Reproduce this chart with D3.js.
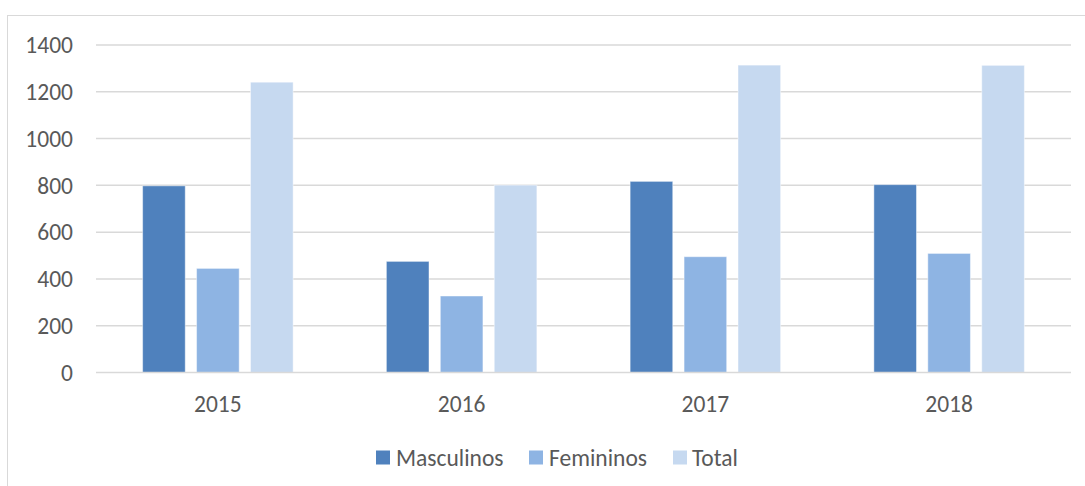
<!DOCTYPE html>
<html>
<head>
<meta charset="utf-8">
<script src="https://cdn.jsdelivr.net/npm/d3@7"></script>
<style>
  html, body { margin: 0; padding: 0; background: #fff; }
  svg { display: block; }
  text { font-family: Carlito, Calibri, Lato, "Open Sans", sans-serif; fill: #595959; }
</style>
</head>
<body>
<svg id="chart" width="1085" height="486"></svg>
<script>
const categories = ["2015", "2016", "2017", "2018"];
const seriesNames = ["Masculinos", "Femininos", "Total"];
const masculinos = [798, 475, 817, 803];
const femininos = [445, 327, 495, 509];
const total = [1241, 801, 1314, 1313];
const yTicks = [0, 200, 400, 600, 800, 1000, 1200, 1400];
const colors = ["#4F81BD", "#8EB4E3", "#C6D9F0"];

const seriesValues = [masculinos, femininos, total];
const data = categories.map((c, i) => ({
  cat: c,
  values: seriesNames.map((s, j) => ({ key: s, value: seriesValues[j][i] }))
}));

const svg = d3.select("#chart");
const FS = "23.5px";

// chart area border
svg.append("rect")
  .attr("x", 7.5).attr("y", 15.5)
  .attr("width", 1090).attr("height", 480)
  .attr("fill", "none").attr("stroke", "#D9D9D9").attr("stroke-width", 1);

const plot = { left: 96, right: 1071, top: 45, bottom: 372.5 };

const x = d3.scaleBand().domain(categories).range([plot.left, plot.right]).paddingInner(0).paddingOuter(0);
const y = d3.scaleLinear().domain([0, 1400]).range([plot.bottom, plot.top]);

// inner band for series
const groupWidth = 150.5;
const xs = d3.scaleBand().domain(seriesNames)
  .range([(x.bandwidth() - groupWidth) / 2, (x.bandwidth() + groupWidth) / 2])
  .paddingInner(0.21).paddingOuter(0);

// gridlines
svg.append("g").selectAll("line").data(yTicks.filter(d => d !== 0)).join("line")
  .attr("x1", plot.left).attr("x2", plot.right)
  .attr("y1", d => y(d)).attr("y2", d => y(d))
  .attr("stroke", "#D9D9D9").attr("stroke-width", 1.5);

// y tick labels
svg.append("g").selectAll("text").data(yTicks).join("text")
  .attr("x", 73).attr("y", d => y(d))
  .attr("dy", "0.35em")
  .attr("text-anchor", "end")
  .style("font-size", FS)
  .text(d => d);

// bars
const groups = svg.append("g").selectAll("g").data(data).join("g")
  .attr("transform", d => `translate(${x(d.cat)},0)`);
groups.selectAll("rect").data(d => d.values).join("rect")
  .attr("x", d => xs(d.key))
  .attr("width", xs.bandwidth())
  .attr("y", d => y(d.value))
  .attr("height", d => y(0) - y(d.value))
  .attr("fill", (d, i) => colors[i])
  .attr("stroke", "rgba(255,255,255,0.45)")
  .attr("stroke-width", 1);

// baseline
svg.append("line")
  .attr("x1", plot.left).attr("x2", plot.right)
  .attr("y1", y(0)).attr("y2", y(0))
  .attr("stroke", "#D9D9D9").attr("stroke-width", 1.5);

// x labels
svg.append("g").selectAll("text").data(categories).join("text")
  .attr("x", d => x(d) + x.bandwidth() / 2)
  .attr("y", 404)
  .attr("dy", "0.35em")
  .attr("text-anchor", "middle")
  .style("font-size", FS)
  .text(d => d);

// legend
const legendItems = [
  { name: seriesNames[0], sx: 376, tx: 396 },
  { name: seriesNames[1], sx: 529, tx: 549 },
  { name: seriesNames[2], sx: 673, tx: 692 }
];
const lg = svg.append("g");
legendItems.forEach((d, i) => {
  lg.append("rect").attr("x", d.sx).attr("y", 450.5).attr("width", 14).attr("height", 14)
    .attr("fill", colors[i]);
  lg.append("text").attr("x", d.tx).attr("y", 457.5).attr("dy", "0.35em")
    .style("font-size", FS).text(d.name);
});
</script>
</body>
</html>
